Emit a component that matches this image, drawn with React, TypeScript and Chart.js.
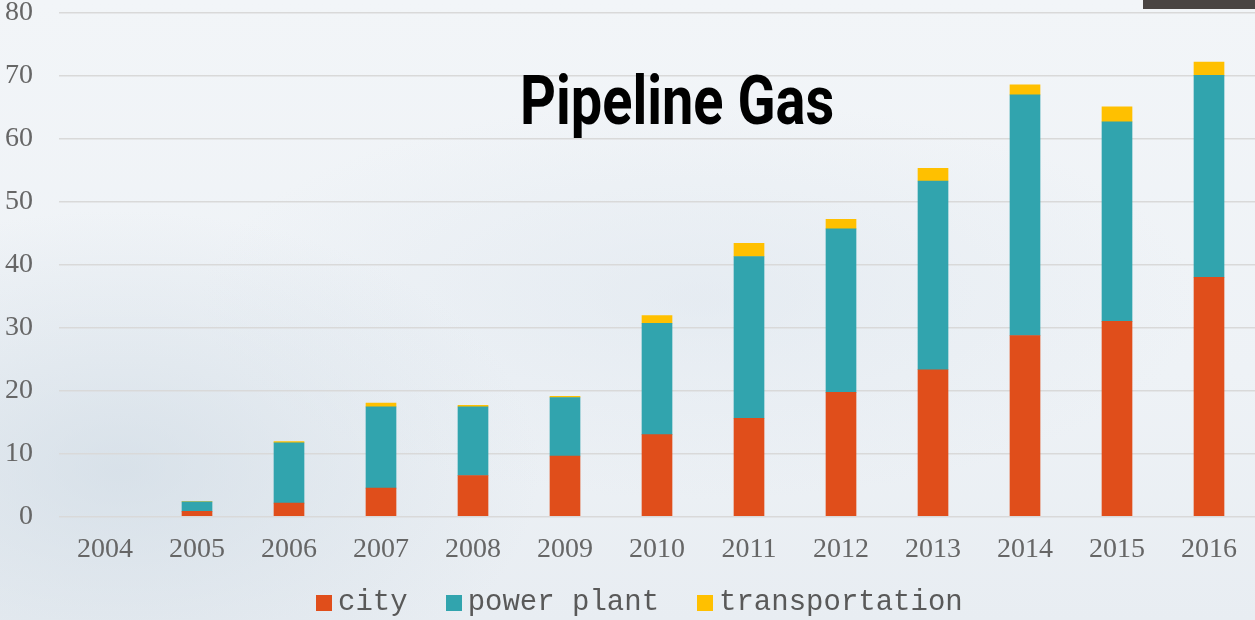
import React, { useEffect, useRef } from "react";
import { Chart, registerables } from "chart.js";

Chart.register(...registerables);

const years = ["2004", "2005", "2006", "2007", "2008", "2009", "2010", "2011", "2012", "2013", "2014", "2015", "2016"];
const city = [null, 0.8, 2.1, 4.5, 6.5, 9.6, 13.0, 15.6, 19.7, 23.3, 28.75, 31.0, 38.0];
const powerPlant = [null, 1.5, 9.6, 12.9, 10.9, 9.3, 17.7, 25.7, 26.0, 30.0, 38.25, 31.7, 32.1];
const transportation = [null, 0.05, 0.2, 0.6, 0.25, 0.2, 1.2, 2.1, 1.5, 2.0, 1.6, 2.4, 2.1];
const seriesNames = ["city", "power plant", "transportation"];
const seriesColors = ["#E04E1B", "#31A4AE", "#FFC000"];
const yTicks = { min: 0, max: 80, step: 10 };
const titleText = "Pipeline Gas";

export default function App() {
  const canvasRef = useRef<HTMLCanvasElement | null>(null);

  useEffect(() => {
    document.body.style.margin = "0";
    const canvas = canvasRef.current;
    if (!canvas) return;
    const seriesData = [city, powerPlant, transportation];
    const chart = new Chart(canvas, {
      type: "bar",
      data: {
        labels: years,
        datasets: seriesNames.map((name, i) => ({
          label: name,
          data: seriesData[i],
          backgroundColor: seriesColors[i],
          borderWidth: 0,
          barThickness: 30,
        })),
      },
      options: {
        animation: false,
        responsive: true,
        maintainAspectRatio: false,
        layout: { padding: { left: 5, right: 0, top: 13, bottom: 38 } },
        plugins: {
          title: { display: false },
          tooltip: { enabled: false },
          legend: { display: false },
        },
        scales: {
          x: {
            stacked: true,
            grid: { display: false, drawTicks: false },
            border: { display: false },
            ticks: {
              color: "#666666",
              padding: 16,
              font: { family: "'Liberation Serif', serif", size: 28 },
            },
            afterFit: (s: any) => {
              s.paddingLeft = 0;
              s.paddingRight = 0;
            },
          },
          y: {
            stacked: true,
            min: yTicks.min,
            max: yTicks.max,
            grid: { color: "#d9d9d9", lineWidth: 1.5, drawTicks: false },
            border: { display: false },
            ticks: {
              stepSize: yTicks.step,
              color: "#666666",
              padding: 26,
              font: { family: "'Liberation Serif', serif", size: 28 },
            },
            afterFit: (s: any) => {
              s.width = 54;
              s.paddingTop = 0;
              s.paddingBottom = 0;
            },
          },
        },
      },
    });
    return () => chart.destroy();
  }, []);

  const legendFont = "'Liberation Mono', monospace";

  return (
    <div
      style={{
        position: "fixed",
        left: 0,
        top: 0,
        width: 1255,
        height: 620,
        overflow: "hidden",
        background:
          "radial-gradient(ellipse 420px 260px at 120px 470px, rgba(200,213,224,0.55), rgba(200,213,224,0) 100%), radial-gradient(ellipse 500px 200px at 700px 300px, rgba(218,227,236,0.45), rgba(218,227,236,0) 100%), linear-gradient(180deg, #f2f5f8 0%, #eef2f6 60%, #e8edf2 100%)",
      }}
    >
      <div style={{ position: "absolute", left: 1143, top: 0, width: 112, height: 9, background: "#4a4543" }} />
      <div style={{ position: "absolute", left: 0, top: 0, width: 1255, height: 620 }}>
        <canvas ref={canvasRef} />
      </div>
      <div
        style={{
          position: "absolute",
          left: 520,
          top: 66,
          fontFamily: "Roboto, 'Liberation Sans', sans-serif",
          fontWeight: 700,
          fontSize: 69,
          lineHeight: "69px",
          color: "#000000",
          whiteSpace: "nowrap",
          transformOrigin: "left top",
          transform: "scaleX(0.81)",
        }}
      >
        {titleText}
      </div>
      <div
        style={{
          position: "absolute",
          left: 316,
          top: 587,
          height: 32,
          display: "flex",
          alignItems: "center",
          fontFamily: legendFont,
          fontSize: 29,
          lineHeight: "32px",
          color: "#595959",
          whiteSpace: "nowrap",
        }}
      >
        {seriesNames.map((name, i) => (
          <div key={name} style={{ display: "flex", alignItems: "center", marginRight: i < seriesNames.length - 1 ? 38 : 0 }}>
            <span style={{ display: "inline-block", width: 16, height: 16, background: seriesColors[i], marginRight: 6 }} />
            <span>{name}</span>
          </div>
        ))}
      </div>
    </div>
  );
}
